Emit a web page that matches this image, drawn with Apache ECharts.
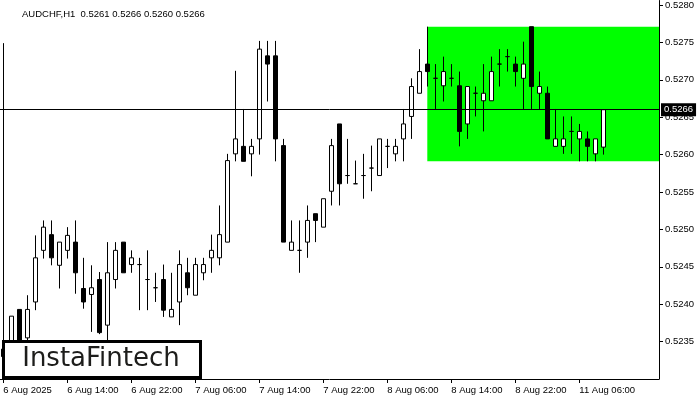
<!DOCTYPE html>
<html>
<head>
<meta charset="utf-8">
<script src="https://cdn.jsdelivr.net/npm/echarts@6/dist/echarts.min.js"></script>
<style>
html,body{margin:0;padding:0;background:#fff;}
#chart{width:700px;height:400px;}
</style>
</head>
<body>
<div id="chart"></div>
<script>
// ---- data (AUDCHF, H1) ----
const opens  = [0.52340,0.52345,0.52393,0.52355,0.52403,0.52472,0.52493,0.52452,0.52472,0.52483,
                0.52421,0.52413,0.52433,0.52372,0.52433,0.52483,0.52453,0.52453,0.52433,0.52422,
                0.52433,0.52383,0.52403,0.52442,0.52412,0.52442,0.52462,0.52462,0.52483,0.52601,
                0.52611,0.52601,0.52621,0.52732,0.52732,0.52612,0.52472,0.52472,0.52483,0.52521,
                0.52503,0.52551,0.52641,0.52572,0.52561,0.52572,0.52582,0.52572,0.52611,0.52601,
                0.52621,0.52651,0.52682,0.52721,0.52702,0.52692,0.52702,0.52692,0.52641,0.52682,
                0.52672,0.52672,0.52721,0.52731,0.52721,0.52702,0.52771,0.52682,0.52682,0.52611,
                0.52611,0.52631,0.52621,0.52621,0.52601,0.52610];
const highs  = [0.52749,0.52384,0.52393,0.52412,0.52492,0.52512,0.52512,0.52483,0.52503,0.52512,
                0.52462,0.52452,0.52443,0.52483,0.52483,0.52483,0.52472,0.52462,0.52472,0.52442,
                0.52453,0.52442,0.52472,0.52462,0.52462,0.52462,0.52493,0.52532,0.52601,0.52712,
                0.52661,0.52621,0.52752,0.52752,0.52752,0.52621,0.52512,0.52512,0.52532,0.52521,
                0.52541,0.52621,0.52641,0.52621,0.52592,0.52601,0.52612,0.52621,0.52621,0.52621,
                0.52661,0.52702,0.52741,0.52771,0.52721,0.52731,0.52721,0.52711,0.52691,0.52691,
                0.52721,0.52731,0.52741,0.52741,0.52731,0.52751,0.52771,0.52711,0.52691,0.52661,
                0.52651,0.52651,0.52641,0.52631,0.52621,0.52660];
const lows   = [0.52320,0.52335,0.52340,0.52350,0.52392,0.52461,0.52452,0.52421,0.52461,0.52414,
                0.52394,0.52363,0.52360,0.52348,0.52421,0.52442,0.52442,0.52392,0.52392,0.52403,
                0.52383,0.52383,0.52372,0.52412,0.52412,0.52432,0.52442,0.52452,0.52483,0.52591,
                0.52591,0.52571,0.52600,0.52671,0.52591,0.52483,0.52472,0.52442,0.52462,0.52483,
                0.52503,0.52532,0.52532,0.52561,0.52561,0.52541,0.52551,0.52572,0.52582,0.52591,
                0.52591,0.52621,0.52682,0.52691,0.52661,0.52671,0.52691,0.52611,0.52621,0.52651,
                0.52631,0.52672,0.52691,0.52711,0.52691,0.52661,0.52661,0.52661,0.52621,0.52611,
                0.52601,0.52601,0.52591,0.52591,0.52591,0.52600];
const closes = [0.52330,0.52384,0.52350,0.52393,0.52462,0.52503,0.52462,0.52483,0.52492,0.52442,
                0.52403,0.52422,0.52362,0.52442,0.52472,0.52442,0.52462,0.52453,0.52433,0.52422,
                0.52392,0.52393,0.52453,0.52422,0.52453,0.52453,0.52472,0.52493,0.52592,0.52621,
                0.52591,0.52611,0.52741,0.52721,0.52621,0.52483,0.52483,0.52472,0.52512,0.52512,
                0.52541,0.52612,0.52561,0.52572,0.52561,0.52572,0.52582,0.52621,0.52611,0.52611,
                0.52641,0.52691,0.52711,0.52711,0.52702,0.52711,0.52702,0.52631,0.52691,0.52682,
                0.52682,0.52711,0.52721,0.52731,0.52711,0.52721,0.52691,0.52691,0.52621,0.52621,
                0.52621,0.52631,0.52631,0.52611,0.52621,0.52660];

const tickBars   = [0, 8, 16, 24, 32, 40, 48, 56, 64, 72];
const tickLabels = ['6 Aug 2025','6 Aug 14:00','6 Aug 22:00','7 Aug 06:00','7 Aug 14:00',
                    '7 Aug 22:00','8 Aug 06:00','8 Aug 14:00','8 Aug 22:00','11 Aug 06:00'];
const priceTicks = [0.5235,0.5240,0.5245,0.5250,0.5255,0.5260,0.5265,0.5270,0.5275,0.5280];

const lastPrice = 0.5266;
const patternStartBar = 53;
const patternLow  = 0.52591;
const patternHigh = 0.52771;
const headerText = 'AUDCHF,H1  0.5261 0.5266 0.5260 0.5266';
const logoText = 'InstaFintech';

// ---- axis extents ----
const X_MIN = -0.4125, X_MAX = 81.9625;
const Y_MIN = 0.5230,  Y_MAX = 0.52806;

const candles = opens.map((o, i) => [i, o, closes[i], lows[i], highs[i]]);

const FONT = 'Liberation Sans';
const chart = echarts.init(document.getElementById('chart'), null, {renderer: 'canvas'});
chart.setOption({
  animation: false,
  backgroundColor: '#fff',
  title: {
    text: headerText, left: 17, top: 4,
    textStyle: {fontFamily: FONT, fontSize: 9.5, fontWeight: 'normal', color: '#000'}
  },
  grid: {left: 0, top: 0, right: 41, bottom: 21},
  xAxis: {
    type: 'value', min: X_MIN, max: X_MAX,
    axisLine: {show: true, onZero: false, lineStyle: {color: '#000', width: 1}},
    axisTick: {show: true, length: 4, customValues: tickBars, lineStyle: {color: '#000'}},
    axisLabel: {
      customValues: tickBars,
      formatter: v => { const k = tickBars.indexOf(Math.round(v)); return k >= 0 ? tickLabels[k] : ''; },
      align: 'left', margin: 6, color: '#000', fontFamily: FONT, fontSize: 9.5
    },
    splitLine: {show: false}
  },
  yAxis: {
    type: 'value', position: 'right', min: Y_MIN, max: Y_MAX,
    axisLine: {show: true, onZero: false, lineStyle: {color: '#000', width: 1}},
    axisTick: {show: true, length: 4, customValues: priceTicks, lineStyle: {color: '#000'}},
    axisLabel: {
      customValues: priceTicks,
      formatter: v => v.toFixed(4),
      margin: 6, color: '#000', fontFamily: FONT, fontSize: 9.5
    },
    splitLine: {show: false}
  },
  series: [{
    type: 'candlestick',
    data: candles,
    barWidth: 5,
    clip: false,
    silent: true,
    itemStyle: {color: '#ffffff', color0: '#000000', borderColor: '#000000', borderColor0: '#000000', borderWidth: 1},
    emphasis: {disabled: true},
    markArea: {
      silent: true,
      itemStyle: {color: '#00ff00', opacity: 1},
      data: [[{coord: [patternStartBar, patternLow]}, {coord: [X_MAX, patternHigh]}]]
    },
    markLine: {
      silent: true,
      symbol: ['none', 'none'],
      precision: 4,
      lineStyle: {color: '#000', width: 1, type: 'solid', opacity: 1},
      label: {
        show: true, position: 'end', distance: 2,
        formatter: () => lastPrice.toFixed(4),
        color: '#fff', backgroundColor: '#000', padding: [2, 3, 1, 3],
        fontFamily: FONT, fontSize: 9.5
      },
      data: [[{coord: [X_MIN, lastPrice]}, {coord: [X_MAX, lastPrice]}]]
    }
  }],
  graphic: [
    {type: 'rect', z: 100, silent: true,
     shape: {x: 3.5, y: 341.5, width: 197, height: 36},
     style: {fill: '#fff', stroke: '#000', lineWidth: 3}},
    {type: 'text', z: 101, silent: true, x: 101, y: 359,
     style: {text: logoText, align: 'center', verticalAlign: 'middle',
             font: '26px "DejaVu Sans"', fill: '#1d1d1b'}}
  ]
});
</script>
</body>
</html>
